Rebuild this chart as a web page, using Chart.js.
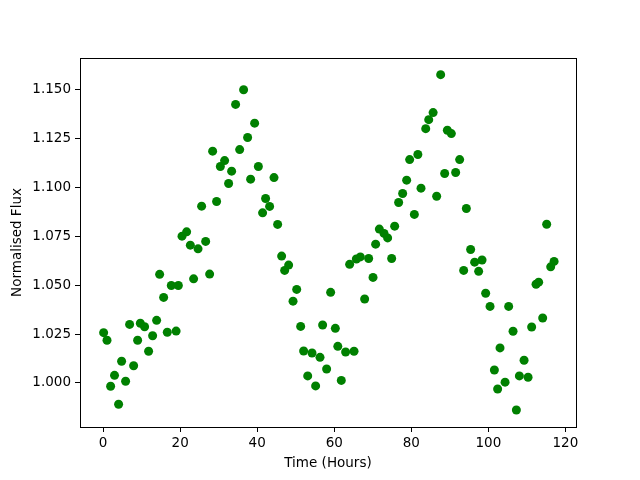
<!DOCTYPE html>
<html>
<head>
<meta charset="utf-8">
<script src="https://cdn.jsdelivr.net/npm/chart.js@4/dist/chart.umd.min.js"></script>
<style>
  html, body { margin: 0; padding: 0; background: #fff; }
  #wrap { width: 640px; height: 480px; }
</style>
</head>
<body>
<div id="wrap"><canvas id="fluxChart" width="640" height="480"></canvas></div>
<script>
// time in hours
const hours = [
  0.13, 1.01, 1.95, 2.96, 4.02, 4.80, 5.84, 6.88, 7.92, 8.96,
  9.66, 10.77, 11.81, 12.85, 13.89, 14.67, 15.71, 16.66, 17.70, 18.95,
  19.53, 20.48, 21.68, 22.64, 23.49, 24.64, 25.57, 26.62, 27.65, 28.43,
  29.46, 30.43, 31.54, 32.58, 33.36, 34.39, 35.45, 36.47, 37.51, 38.29,
  39.33, 40.30, 41.40, 42.18, 43.22, 44.36, 45.30, 46.34, 47.12, 48.16,
  49.30, 50.25, 51.28, 52.05, 53.11, 54.23, 55.16, 56.30, 56.98, 58.02,
  59.06, 60.28, 60.92, 61.83, 62.95, 63.99, 65.13, 65.73, 66.77, 67.89,
  68.93, 70.06, 70.74, 71.70, 72.92, 73.86, 74.90, 75.68, 76.71, 77.75,
  78.79, 79.57, 80.79, 81.70, 82.52, 83.74, 84.52, 85.66, 86.58, 87.62,
  88.66, 89.36, 90.39, 91.51, 92.55, 93.59, 94.29, 95.40, 96.44, 97.48,
  98.36, 99.30, 100.44, 101.56, 102.41, 103.03, 104.34, 105.27, 106.41, 107.27,
  108.05, 109.27, 110.31, 111.24, 112.38, 113.06, 114.10, 115.14, 116.18, 117.06
];

// normalised flux
const flux = [
  1.0257, 1.0218, 0.9983, 1.0039, 0.9891, 1.0111, 1.0009, 1.0299, 1.0088, 1.0218,
  1.0305, 1.0287, 1.0162, 1.0241, 1.0320, 1.0555, 1.0437, 1.0259, 1.0498, 1.0265,
  1.0498, 1.0750, 1.0772, 1.0704, 1.0532, 1.0685, 1.0903, 1.0723, 1.0556, 1.1184,
  1.0927, 1.1106, 1.1136, 1.1019, 1.1082, 1.1423, 1.1192, 1.1498, 1.1254, 1.1041,
  1.1327, 1.1106, 1.0869, 1.0942, 1.0902, 1.1049, 1.0810, 1.0648, 1.0575, 1.0602,
  1.0418, 1.0478, 1.0289, 1.0163, 1.0036, 1.0153, 0.9985, 1.0131, 1.0296, 1.0071,
  1.0463, 1.0279, 1.0187, 1.0013, 1.0158, 1.0606, 1.0162, 1.0633, 1.0644, 1.0429,
  1.0636, 1.0539, 1.0709, 1.0786, 1.0764, 1.0741, 1.0636, 1.0801, 1.0922, 1.0968,
  1.1036, 1.1141, 1.0861, 1.1167, 1.0995, 1.1299, 1.1345, 1.1381, 1.0954, 1.1575,
  1.1070, 1.1291, 1.1274, 1.1075, 1.1141, 1.0575, 1.0891, 1.0682, 1.0617, 1.0570,
  1.0628, 1.0458, 1.0391, 1.0066, 0.9969, 1.0179, 1.0004, 1.0391, 1.0264, 0.9862,
  1.0036, 1.0116, 1.0029, 1.0286, 1.0504, 1.0515, 1.0332, 1.0811, 1.0593, 1.0621
];

const xTicks = [0, 20, 40, 60, 80, 100, 120];
const yTicks = [1.000, 1.025, 1.050, 1.075, 1.100, 1.125, 1.150];

let points = [];
for (let i = 0; i < hours.length; i++) {
    points.push({ x: hours[i], y: flux[i] });
}

// matplotlib style box round the plot area
const frameBox = {
    id: 'frameBox',
    afterDraw(chart) {
        const a = chart.chartArea;
        const ctx = chart.ctx;
        ctx.save();
        ctx.strokeStyle = '#000';
        ctx.lineWidth = 1;
        ctx.strokeRect(Math.round(a.left) + 0.5, Math.round(a.top) + 0.5,
            Math.round(a.right - a.left), Math.round(a.bottom - a.top));
        ctx.restore();
    }
};

const tickFont = { family: 'DejaVu Sans', size: 13.5 };

var ctx = document.getElementById('fluxChart');
var fluxChart = new Chart(ctx, {
    type: 'scatter',
    data: {
        datasets: [{
            data: points,
            backgroundColor: '#008000',
            borderWidth: 0,
            pointRadius: 4.5,
            pointHoverRadius: 4.5
        }]
    },
    options: {
        responsive: false,
        animation: false,
        layout: { padding: { top: 58, right: 64, left: 0, bottom: 0 } },
        plugins: {
            legend: { display: false },
            tooltip: { enabled: false }
        },
        scales: {
            x: {
                type: 'linear',
                min: -6.0,
                max: 122.75,
                afterBuildTicks: function (scale) {
                    scale.ticks = xTicks.map(v => ({ value: v }));
                },
                afterFit: function (scale) { scale.height = 53; },
                grid: {
                    drawOnChartArea: false,
                    drawTicks: true,
                    tickLength: 5,
                    color: '#000'
                },
                border: { display: false },
                ticks: {
                    color: '#000',
                    font: tickFont,
                    padding: 3,
                    maxRotation: 0,
                    callback: v => String(v)
                },
                title: {
                    display: true,
                    text: 'Time (Hours)',
                    color: '#000',
                    font: tickFont,
                    padding: { top: 2, bottom: 8 }
                }
            },
            y: {
                type: 'linear',
                min: 0.9775,
                max: 1.1660,
                afterBuildTicks: function (scale) {
                    scale.ticks = yTicks.map(v => ({ value: v }));
                },
                afterFit: function (scale) { scale.width = 80; },
                grid: {
                    drawOnChartArea: false,
                    drawTicks: true,
                    tickLength: 5,
                    color: '#000'
                },
                border: { display: false },
                ticks: {
                    color: '#000',
                    font: tickFont,
                    padding: 4,
                    callback: v => Number(v).toFixed(3)
                },
                title: {
                    display: true,
                    text: 'Normalised Flux',
                    color: '#000',
                    font: tickFont,
                    padding: { top: 9, bottom: 4 }
                }
            }
        }
    },
    plugins: [frameBox]
});
</script>
</body>
</html>
